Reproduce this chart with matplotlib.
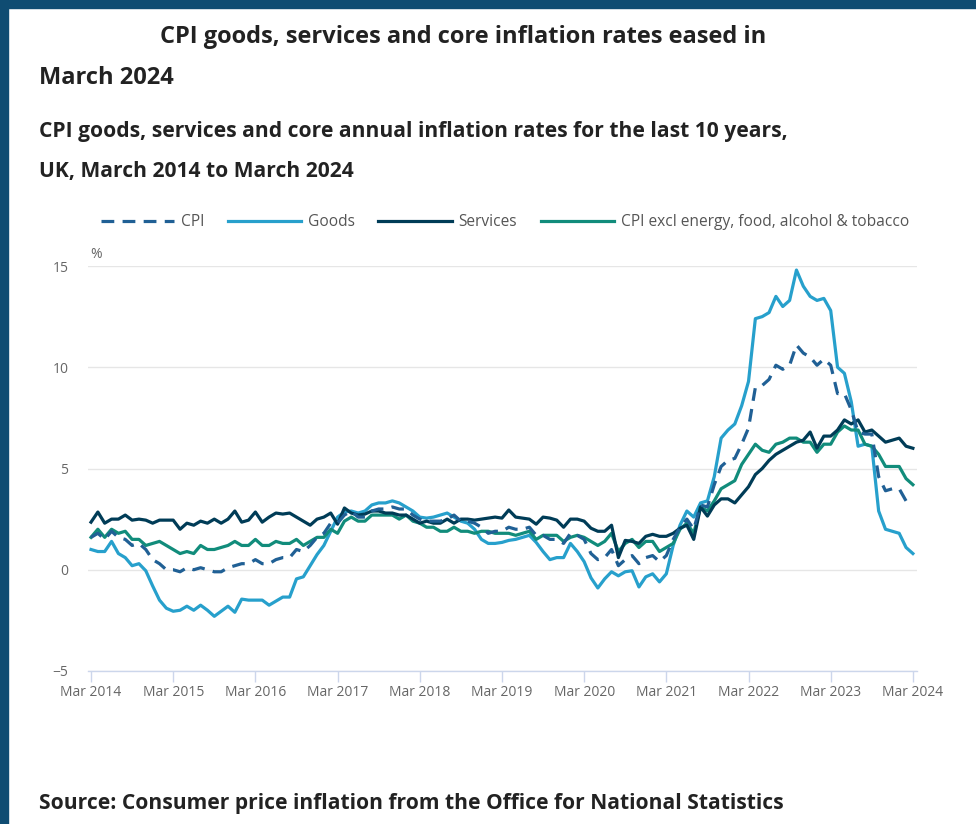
import matplotlib
matplotlib.use("Agg")
import matplotlib.pyplot as plt
from matplotlib.lines import Line2D
from matplotlib.patches import Rectangle

plt.rcParams['font.family'] = ['Open Sans', 'DejaVu Sans']

# monthly annual rates, Mar 2014 .. Mar 2024 (121 months)
cpi = [1.6, 1.8, 1.5, 1.9, 1.6, 1.5, 1.2, 1.3, 1.0, 0.5, 0.3, 0.0,
       0.0, -0.1, 0.1, 0.0, 0.1, 0.0, -0.1, -0.1, 0.1, 0.2, 0.3, 0.3,
       0.5, 0.3, 0.3, 0.5, 0.6, 0.6, 1.0, 0.9, 1.2, 1.6, 1.8, 2.3,
       2.3, 2.7, 2.9, 2.6, 2.6, 2.9, 3.0, 3.0, 3.1, 3.0, 3.0, 2.7,
       2.5, 2.4, 2.4, 2.4, 2.5, 2.7, 2.4, 2.4, 2.3, 2.1, 1.8, 1.9,
       1.9, 2.1, 2.0, 2.0, 2.1, 1.7, 1.7, 1.5, 1.5, 1.3, 1.8, 1.7,
       1.5, 0.8, 0.5, 0.6, 1.0, 0.2, 0.5, 0.7, 0.3, 0.6, 0.7, 0.4,
       0.7, 1.5, 2.1, 2.5, 2.0, 3.2, 3.1, 4.2, 5.1, 5.4, 5.5, 6.2,
       7.0, 9.0, 9.1, 9.4, 10.1, 9.9, 10.1, 11.1, 10.7, 10.5, 10.1, 10.4,
       10.1, 8.7, 8.7, 7.9, 6.8, 6.7, 6.7, 4.6, 3.9, 4.0, 4.0, 3.4,
       3.2]

goods = [1.0, 0.9, 0.9, 1.4, 0.8, 0.6, 0.2, 0.3, -0.05, -0.8, -1.5, -1.9,
         -2.05, -2.0, -1.8, -2.0, -1.75, -2.0, -2.3, -2.05, -1.8, -2.1, -1.45, -1.5,
         -1.5, -1.5, -1.75, -1.55, -1.35, -1.35, -0.45, -0.35, 0.2, 0.75, 1.2, 1.9,
         2.6, 2.85, 2.9, 2.8, 2.9, 3.2, 3.3, 3.3, 3.4, 3.3, 3.1, 2.9,
         2.6, 2.55, 2.6, 2.7, 2.8, 2.6, 2.4, 2.3, 2.0, 1.5, 1.3, 1.3,
         1.35, 1.45, 1.5, 1.6, 1.7, 1.35, 0.9, 0.5, 0.6, 0.6, 1.3, 0.9,
         0.4, -0.4, -0.9, -0.45, -0.1, -0.3, -0.1, -0.05, -0.85, -0.35, -0.2, -0.6,
         -0.2, 1.2, 2.2, 2.9, 2.6, 3.3, 3.4, 4.6, 6.5, 6.9, 7.2, 8.1,
         9.3, 12.4, 12.5, 12.7, 13.5, 13.0, 13.3, 14.8, 14.0, 13.5, 13.3, 13.4,
         12.8, 10.0, 9.7, 8.3, 6.1, 6.2, 6.1, 2.9, 2.0, 1.9, 1.8, 1.1,
         0.8]

services = [2.35, 2.85, 2.3, 2.5, 2.5, 2.7, 2.45, 2.5, 2.45, 2.3, 2.45, 2.45,
            2.45, 2.0, 2.3, 2.2, 2.4, 2.3, 2.5, 2.3, 2.5, 2.9, 2.35, 2.45,
            2.85, 2.35, 2.6, 2.8, 2.75, 2.8, 2.6, 2.4, 2.2, 2.5, 2.6, 2.8,
            2.25, 3.05, 2.8, 2.7, 2.75, 2.9, 2.9, 2.8, 2.8, 2.7, 2.7, 2.5,
            2.3, 2.4, 2.3, 2.3, 2.5, 2.3, 2.5, 2.5, 2.45, 2.5, 2.55, 2.6,
            2.55, 2.95, 2.6, 2.55, 2.5, 2.25, 2.6, 2.55, 2.45, 2.1, 2.5, 2.5,
            2.4, 2.05, 1.9, 1.9, 2.2, 0.6, 1.45, 1.4, 1.3, 1.65, 1.75, 1.65,
            1.65, 1.8, 2.05, 2.2, 1.5, 3.1, 2.65, 3.2, 3.5, 3.5, 3.3, 3.7,
            4.1, 4.7, 5.0, 5.4, 5.7, 5.9, 6.1, 6.3, 6.4, 6.8, 6.0, 6.6,
            6.6, 6.9, 7.4, 7.2, 7.4, 6.8, 6.9, 6.6, 6.3, 6.4, 6.5, 6.1,
            6.0]

core = [1.6, 2.0, 1.6, 2.0, 1.8, 1.9, 1.5, 1.5, 1.2, 1.3, 1.4, 1.2,
        1.0, 0.8, 0.9, 0.8, 1.2, 1.0, 1.0, 1.1, 1.2, 1.4, 1.2, 1.2,
        1.5, 1.2, 1.2, 1.4, 1.3, 1.3, 1.5, 1.2, 1.4, 1.6, 1.6, 2.0,
        1.8, 2.4, 2.6, 2.4, 2.4, 2.7, 2.7, 2.7, 2.7, 2.5, 2.7, 2.4,
        2.3, 2.1, 2.1, 1.9, 1.9, 2.1, 1.9, 1.9, 1.8, 1.9, 1.9, 1.8,
        1.8, 1.8, 1.7, 1.8, 1.9, 1.5, 1.7, 1.7, 1.7, 1.4, 1.6, 1.7,
        1.6, 1.4, 1.2, 1.4, 1.8, 0.9, 1.3, 1.5, 1.1, 1.4, 1.4, 0.9,
        1.1, 1.3, 2.0, 2.3, 1.8, 3.1, 2.9, 3.4, 4.0, 4.2, 4.4, 5.2,
        5.7, 6.2, 5.9, 5.8, 6.2, 6.3, 6.5, 6.5, 6.3, 6.3, 5.8, 6.2,
        6.2, 6.8, 7.1, 6.9, 6.9, 6.2, 6.1, 5.7, 5.1, 5.1, 5.1, 4.5,
        4.2]

tick_labels = ['Mar 2014', 'Mar 2015', 'Mar 2016', 'Mar 2017', 'Mar 2018', 'Mar 2019',
               'Mar 2020', 'Mar 2021', 'Mar 2022', 'Mar 2023', 'Mar 2024']
y_ticks = [-5, 0, 5, 10, 15]

W, H = 976, 824


def fx(px):
    return px / W


def fy(py):
    return 1 - py / H


fig = plt.figure(figsize=(W / 100, H / 100), dpi=100)
fig.patch.set_facecolor('white')

# dark frame on top and left edge
border = '#0f4c72'
fig.add_artist(Rectangle((0, fy(8)), 1, 8 / H, transform=fig.transFigure, color=border, zorder=0))
fig.add_artist(Rectangle((0, 0), 8 / W, 1, transform=fig.transFigure, color=border, zorder=0))

dark = '#222222'
fig.text(fx(160), fy(37), 'CPI goods, services and core inflation rates eased in',
         fontsize=17, fontweight='bold', color=dark, va='center', ha='left')
fig.text(fx(39), fy(78), 'March 2024', fontsize=17, fontweight='bold', color=dark, va='center')
fig.text(fx(39), fy(131), 'CPI goods, services and core annual inflation rates for the last 10 years,',
         fontsize=15.1, fontweight='bold', color=dark, va='center')
fig.text(fx(39), fy(172), 'UK, March 2014 to March 2024', fontsize=15.1, fontweight='bold',
         color=dark, va='center')
fig.text(fx(39), fy(803), 'Source: Consumer price inflation from the Office for National Statistics',
         fontsize=15.1, fontweight='bold', color=dark, va='center')

ax = fig.add_axes([fx(88), fy(671), fx(917) - fx(88), (671 - 266) / H])
months = list(range(len(cpi)))
lw = 2.3
ax.plot(months, goods, color='#27a0cc', lw=lw, label='Goods', zorder=3)
ax.plot(months, core, color='#118c7b', lw=lw, label='CPI excl energy, food, alcohol & tobacco', zorder=4)
ax.plot(months, services, color='#003c57', lw=lw, label='Services', zorder=5)
ax.plot(months, cpi, color='#206095', lw=lw, dashes=(4, 2.6), label='CPI', zorder=6)

ax.set_xlim(-0.44, 120.6)
ax.set_ylim(-5, 15)
ax.set_yticks(y_ticks)
ax.set_xticks(range(0, 121, 12))
ax.set_xticklabels(tick_labels)
ax.grid(axis='y', color='#e6e6e6', lw=1)
ax.set_axisbelow(True)
for s in ['top', 'right', 'left']:
    ax.spines[s].set_visible(False)
ax.spines['bottom'].set_color('#ccd6eb')
ax.spines['bottom'].set_linewidth(1)
ax.tick_params(axis='x', colors='#ccd6eb', length=8, width=1, labelcolor='#666666', labelsize=10, pad=2)
ax.tick_params(axis='y', length=0, labelcolor='#666666', labelsize=10, pad=14)

fig.text(fx(90), fy(255), '%', fontsize=10, color='#666666', va='center')

handles = [
    Line2D([], [], color='#206095', lw=lw, dashes=(4, 2.6)),
    Line2D([], [], color='#27a0cc', lw=lw),
    Line2D([], [], color='#003c57', lw=lw),
    Line2D([], [], color='#118c7b', lw=lw),
]
labels = ['CPI', 'Goods', 'Services', 'CPI excl energy, food, alcohol & tobacco']
fig.legend(handles, labels, loc='center', bbox_to_anchor=(fx(505), fy(222)), ncol=4,
           frameon=False, fontsize=11.2, handlelength=4.7, handletextpad=0.45,
           columnspacing=1.5, labelcolor='#555555')

fig.savefig('out.png', dpi=100, facecolor='white')
